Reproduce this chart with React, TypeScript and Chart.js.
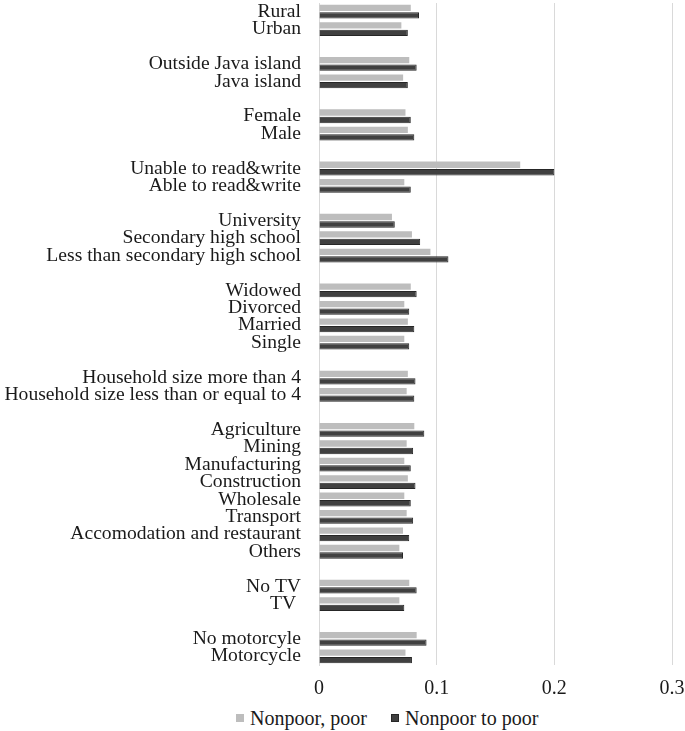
import React, { useEffect, useRef } from "react";
import { Chart, registerables } from "chart.js";

Chart.register(...registerables);

const categories: string[] = [
  "Rural", "Urban", "",
  "Outside Java island", "Java island", "",
  "Female", "Male", "",
  "Unable to read&write", "Able to read&write", "",
  "University", "Secondary high school", "Less than secondary high school", "",
  "Widowed", "Divorced", "Married", "Single", "",
  "Household size more than 4", "Household size less than or equal to 4", "",
  "Agriculture", "Mining", "Manufacturing", "Construction", "Wholesale", "Transport", "Accomodation and restaurant", "Others", "",
  "No TV", "TV ", "",
  "No motorcyle", "Motorcycle",
];

const nonpoorPoor: (number | null)[] = [
  0.078, 0.070, null,
  0.0767, 0.0715, null,
  0.0735, 0.0755, null,
  0.171, 0.0725, null,
  0.062, 0.079, 0.0947, null,
  0.078, 0.0725, 0.0755, 0.0725, null,
  0.0755, 0.0745, null,
  0.081, 0.0745, 0.0725, 0.0755, 0.0725, 0.0745, 0.0714, 0.0683, null,
  0.0767, 0.0683, null,
  0.083, 0.0735,
];

const nonpoorToPoor: (number | null)[] = [
  0.085, 0.0755, null,
  0.083, 0.0755, null,
  0.078, 0.081, null,
  0.200, 0.078, null,
  0.0644, 0.086, 0.110, null,
  0.083, 0.0767, 0.081, 0.0767, null,
  0.082, 0.081, null,
  0.0895, 0.080, 0.078, 0.082, 0.078, 0.080, 0.0767, 0.0714, null,
  0.083, 0.0725, null,
  0.0914, 0.079,
];

const xTicks: number[] = [0, 0.1, 0.2, 0.3];
const seriesNames: string[] = ["Nonpoor, poor", "Nonpoor to poor"];

const FONT = "'Liberation Serif', 'Times New Roman', serif";
const LIGHT = "#bdbdbd";
const DARK = "#404040";
const W = 685;
const H = 701;

export default function App() {
  const ref = useRef<HTMLCanvasElement | null>(null);

  useEffect(() => {
    if (!ref.current) return;
    const chart = new Chart(ref.current, {
      type: "bar",
      data: {
        labels: categories,
        datasets: [
          {
            label: seriesNames[0],
            data: nonpoorPoor,
            backgroundColor: LIGHT,
            borderWidth: 0,
            categoryPercentage: 0.86,
            barPercentage: 0.84,
          },
          {
            label: seriesNames[1],
            data: nonpoorToPoor,
            backgroundColor: DARK,
            borderColor: "#262626",
            borderWidth: 1,
            categoryPercentage: 0.86,
            barPercentage: 0.84,
          },
        ],
      },
      options: {
        indexAxis: "y",
        animation: false,
        responsive: false,
        devicePixelRatio: 1,
        layout: { padding: { top: 3, right: 0, left: 0, bottom: 0 }, autoPadding: false },
        plugins: {
          legend: { display: false },
          tooltip: { enabled: false },
        },
        scales: {
          x: {
            min: 0,
            max: 0.3,
            afterBuildTicks: (scale: any) => {
              scale.ticks = xTicks.map((v) => ({ value: v }));
            },
            afterFit: (scale: any) => {
              scale.height = 36;
              scale.paddingLeft = 0;
              scale.paddingRight = 13;
              scale.paddingTop = 0;
              scale.paddingBottom = 0;
            },
            ticks: {
              color: "#1a1a1a",
              font: { family: FONT, size: 20 },
              padding: 12,
              maxRotation: 0,
              callback: (v: any) => String(Number(v)),
            },
            grid: { color: "#d9d9d9", drawTicks: false, lineWidth: 1 },
            border: { display: false },
          },
          y: {
            afterFit: (scale: any) => {
              scale.width = 319;
              scale.paddingTop = 0;
              scale.paddingBottom = 0;
              scale.paddingLeft = 0;
              scale.paddingRight = 0;
            },
            ticks: {
              color: "#1a1a1a",
              font: { family: FONT, size: 19.6 },
              padding: 18,
              autoSkip: false,
            },
            grid: { display: false, drawTicks: false },
            border: { display: true, color: "#d9d9d9" },
          },
        },
      },
    });
    return () => chart.destroy();
  }, []);

  const legendItem = (color: string, text: string, gap: number, border?: string) => (
    <span style={{ display: "inline-flex", alignItems: "center", marginRight: gap }}>
      <span
        style={{
          display: "inline-block",
          width: border ? 6 : 8,
          height: border ? 6 : 8,
          background: color,
          border: border ? `1px solid ${border}` : "none",
          marginRight: 6,
        }}
      />
      <span>{text}</span>
    </span>
  );

  return (
    <div style={{ position: "fixed", left: 0, top: 0, width: W, height: 731, overflow: "hidden", background: "#fff" }}>
      <canvas ref={ref} width={W} height={H} style={{ display: "block", width: W, height: H }} />
      <div
        style={{
          position: "absolute",
          left: 236,
          top: 703,
          fontFamily: FONT,
          fontSize: 20,
          lineHeight: "24px",
          color: "#1a1a1a",
          whiteSpace: "nowrap",
        }}
      >
        {legendItem(LIGHT, seriesNames[0], 24)}
        {legendItem(DARK, seriesNames[1], 0, "#262626")}
      </div>
    </div>
  );
}
